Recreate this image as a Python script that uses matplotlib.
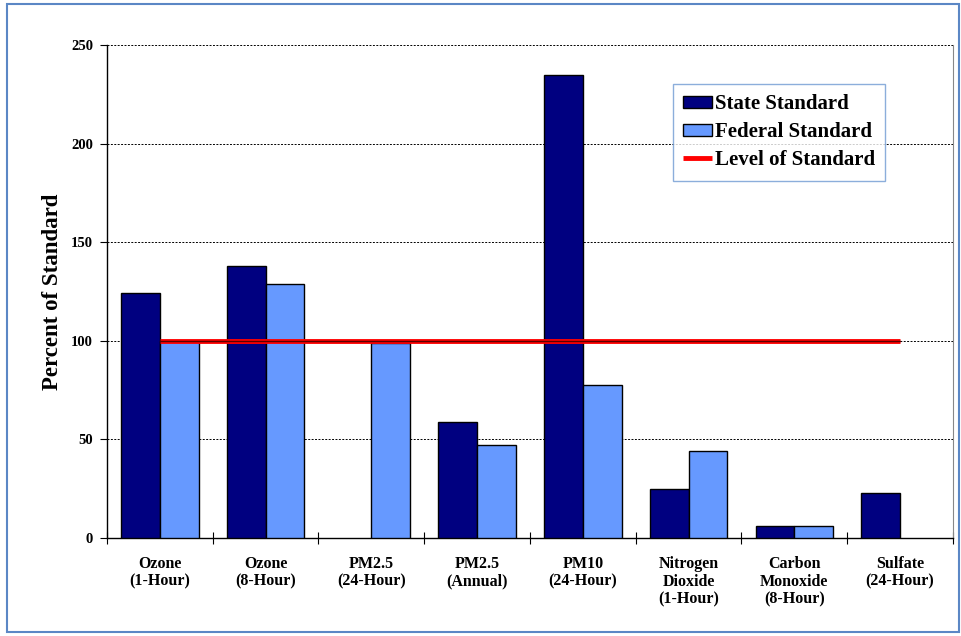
import numpy as np
import matplotlib.pyplot as plt
from matplotlib.patches import Rectangle

# Chart data
categories = ['Ozone\n(1-Hour)', 'Ozone\n(8-Hour)', 'PM2.5\n(24-Hour)', 'PM2.5\n(Annual)',
              'PM10\n(24-Hour)', 'Nitrogen\nDioxide\n(1-Hour)', 'Carbon\nMonoxide\n(8-Hour)',
              'Sulfate\n(24-Hour)']
state_values = [124, 138, 0, 59, 235, 25, 6, 23]
federal_values = [100, 129, 99, 47, 77.5, 44, 6, 0]
standard_level = [100] * len(categories)
y_ticks = [0, 50, 100, 150, 200, 250]

plt.rcParams['font.family'] = ['Liberation Serif', 'DejaVu Serif']
plt.rcParams['font.weight'] = 'bold'

fig = plt.figure(figsize=(9.61, 6.36), dpi=100)
ax = fig.add_axes([0.1113, 0.1541, 0.8803, 0.7752])

x = np.arange(len(categories))
width = 0.366

# no bar where there is no value
state = np.where(np.array(state_values) > 0, state_values, np.nan)
federal = np.where(np.array(federal_values) > 0, federal_values, np.nan)

ax.bar(x - width / 2, state, width, color='#000080', edgecolor='black',
       linewidth=1, label='State Standard', zorder=3)
ax.bar(x + width / 2, federal, width, color='#6699FF', edgecolor='black',
       linewidth=1, label='Federal Standard', zorder=3)
ax.plot(x, standard_level, color='red', linewidth=3.5, label='Level of Standard',
        zorder=4, solid_capstyle='butt')
ax.plot(x, standard_level, color='#5a0000', linewidth=1, zorder=5)

# Axes limits and ticks
ax.set_xlim(-0.5, len(categories) - 0.5)
ax.set_ylim(0, 250)
ax.set_yticks(y_ticks)
ax.set_yticklabels([str(t) for t in y_ticks], fontsize=10.5, fontweight='bold')
ax.set_xticks(np.arange(len(categories) + 1) - 0.5)
ax.set_xticklabels([])
ax.set_xticks(x, minor=True)
ax.set_xticklabels(categories, minor=True, fontsize=11.5, fontweight='bold',
                   linespacing=1.15)
ax.tick_params(axis='x', which='major', direction='inout', length=9, width=0.8)
ax.tick_params(axis='x', which='minor', length=0, pad=13)
ax.tick_params(axis='y', direction='out', length=5, width=0.8, pad=5)

ax.yaxis.grid(True, color='black', linestyle=(0, (2, 1.5)), linewidth=0.7, zorder=0)
ax.set_axisbelow(True)

ax.spines['top'].set_visible(False)
ax.spines['right'].set_color('#888888')
ax.spines['left'].set_linewidth(1)
ax.spines['bottom'].set_linewidth(1)

ax.set_ylabel('Percent of Standard', fontsize=16.5, fontweight='bold', labelpad=6)

# legend in the same order as the reference
handles, labels = ax.get_legend_handles_labels()
order = [labels.index('State Standard'), labels.index('Federal Standard'),
         labels.index('Level of Standard')]
leg = ax.legend([handles[i] for i in order], [labels[i] for i in order],
                loc='upper left', bbox_to_anchor=(0.669, 0.921), borderaxespad=0,
                fontsize=15, frameon=True, fancybox=False, handlelength=1.4,
                handleheight=0.5, handletextpad=0.1, labelspacing=0.38, borderpad=0.5)
leg.get_frame().set_edgecolor('#6F9AD3')
leg.get_frame().set_linewidth(1)
for t in leg.get_texts():
    t.set_fontweight('bold')

# Outer frame around the chart
fig.patches.append(Rectangle((7 / 961, 4 / 636), 952 / 961, 628 / 636,
                             transform=fig.transFigure, fill=False,
                             edgecolor='#5B87C5', linewidth=1.5))

fig.savefig('out.png', dpi=100)
